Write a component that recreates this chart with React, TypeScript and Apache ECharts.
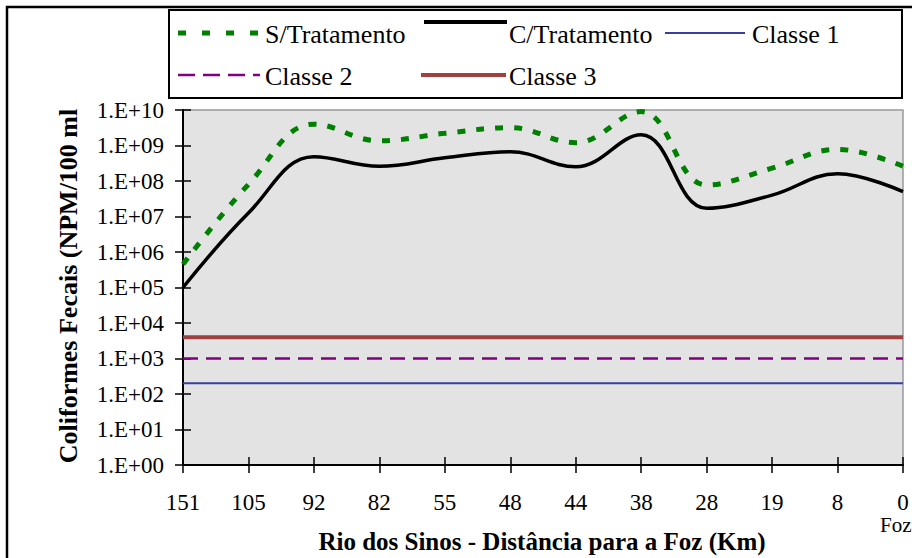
import React, { useEffect, useRef } from "react";
import * as echarts from "echarts";

const categories = ["151", "105", "92", "82", "55", "48", "44", "38", "28", "19", "8", "0"];
const sTratamento = [4.5e5, 8e7, 4e9, 1.35e9, 2.2e9, 3.2e9, 1.2e9, 9e9, 7.7e7, 2.3e8, 7.8e8, 2.6e8];
const cTratamento = [1e5, 1.25e7, 4.8e8, 2.6e8, 4.5e8, 6.7e8, 2.5e8, 2e9, 1.7e7, 4e7, 1.6e8, 5e7];
const classe1 = 200;
const classe2 = 1000;
const classe3 = 4000;
const yMin = 1;
const yMax = 1e10;

const TNR = "Liberation Serif";

const C_GREEN = "#008000";
const C_BLACK = "#000000";
const C_BLUE = "#3a3f9f";
const C_PURPLE = "#800080";
const C_RED = "#a0403f";

function fmtLog(v: number) {
  const e = Math.round(Math.log10(v));
  return "1.E+" + (e < 10 ? "0" : "") + e;
}

function txt(text: string, x: number, y: number, size: number, extra: any = {}) {
  return {
    type: "text",
    x,
    y,
    silent: true,
    ...extra.el,
    style: {
      text,
      fontFamily: TNR,
      fontSize: size,
      fill: "#000",
      verticalAlign: "middle",
      ...extra.style,
    },
  };
}

export default function App() {
  const ref = useRef<HTMLDivElement>(null);
  useEffect(() => {
    if (!ref.current) return;
    const chart = echarts.init(ref.current, undefined, { renderer: "svg" });
    const tickStyle = { color: "#000", width: 1.5 };
    const option: any = {
      animation: false,
      grid: {
        left: 183,
        right: 9,
        top: 110,
        bottom: 93,
        show: true,
        backgroundColor: "#E3E3E3",
        borderColor: "#9a9a9a",
        borderWidth: 1.5,
      },
      xAxis: [
        {
          type: "category",
          data: categories,
          boundaryGap: false,
          axisLine: { lineStyle: { color: "#000", width: 2 } },
          axisTick: { show: true, length: 8, interval: 0, lineStyle: tickStyle },
          axisLabel: { interval: 0, margin: 26, fontFamily: TNR, fontSize: 23, color: "#000" },
          splitLine: { show: false },
        },
        {
          type: "category",
          data: categories,
          boundaryGap: false,
          position: "bottom",
          axisLine: { show: false },
          axisTick: { show: true, inside: true, length: 8, interval: 0, lineStyle: tickStyle },
          axisLabel: { show: false },
          splitLine: { show: false },
        },
      ],
      yAxis: [
        {
          type: "log",
          logBase: 10,
          min: yMin,
          max: yMax,
          interval: 1,
          splitNumber: 10,
          axisLine: { show: true, lineStyle: { color: "#000", width: 2 } },
          axisTick: { show: true, length: 8, lineStyle: tickStyle },
          axisLabel: { margin: 19, fontFamily: TNR, fontSize: 23, color: "#000", formatter: fmtLog },
          splitLine: { show: false },
        },
        {
          type: "log",
          logBase: 10,
          min: yMin,
          max: yMax,
          interval: 1,
          splitNumber: 10,
          position: "left",
          axisLine: { show: false },
          axisTick: { show: true, inside: true, length: 8, lineStyle: tickStyle },
          axisLabel: { show: false },
          splitLine: { show: false },
        },
      ],
      series: [
        {
          name: "Classe 1",
          type: "line",
          data: categories.map(() => classe1),
          symbol: "none",
          lineStyle: { color: C_BLUE, width: 2 },
        },
        {
          name: "Classe 2",
          type: "line",
          data: categories.map(() => classe2),
          symbol: "none",
          lineStyle: { color: C_PURPLE, width: 2.5, type: [15, 8] },
        },
        {
          name: "Classe 3",
          type: "line",
          data: categories.map(() => classe3),
          symbol: "none",
          lineStyle: { color: C_RED, width: 4 },
        },
        {
          name: "C/Tratamento",
          type: "line",
          data: cTratamento,
          symbol: "none",
          smooth: 0.4,
          lineStyle: { color: C_BLACK, width: 3.5 },
        },
        {
          name: "S/Tratamento",
          type: "line",
          data: sTratamento,
          symbol: "none",
          smooth: 0.4,
          lineStyle: { color: C_GREEN, width: 5, type: [8, 11], cap: "butt" },
        },
      ],
      graphic: [
        {
          type: "rect",
          shape: { x: 7, y: 7, width: 1000, height: 1000 },
          style: { fill: "none", stroke: "#000", lineWidth: 2.5 },
          silent: true,
        },
        {
          type: "rect",
          shape: { x: 169, y: 10, width: 733, height: 88 },
          style: { fill: "#fff", stroke: "#000", lineWidth: 2 },
          silent: true,
        },
        {
          type: "line",
          shape: { x1: 178, y1: 33, x2: 258, y2: 33 },
          style: { stroke: C_GREEN, lineWidth: 5, lineDash: [8, 16] },
        },
        txt("S/Tratamento", 265, 34, 26),
        {
          type: "line",
          shape: { x1: 424, y1: 22, x2: 507, y2: 22 },
          style: { stroke: C_BLACK, lineWidth: 4 },
        },
        txt("C/Tratamento", 509, 34, 26),
        {
          type: "line",
          shape: { x1: 665, y1: 33, x2: 745, y2: 33 },
          style: { stroke: C_BLUE, lineWidth: 2 },
        },
        txt("Classe 1", 752, 34, 26),
        {
          type: "line",
          shape: { x1: 178, y1: 75, x2: 260, y2: 75 },
          style: { stroke: C_PURPLE, lineWidth: 2.5, lineDash: [17, 8] },
        },
        txt("Classe 2", 265, 76, 26),
        {
          type: "line",
          shape: { x1: 421, y1: 75, x2: 506, y2: 75 },
          style: { stroke: C_RED, lineWidth: 4 },
        },
        txt("Classe 3", 509, 76, 26),
        txt("Coliformes Fecais (NPM/100 ml", 68, 286, 26, {
          el: { rotation: Math.PI / 2 },
          style: { fontWeight: "bold", align: "center" },
        }),
        txt("Rio dos Sinos - Distância para a Foz (Km)", 542, 541, 25, {
          style: { fontWeight: "bold", align: "center" },
        }),
        txt("Foz", 880, 525, 21),
      ],
    };
    chart.setOption(option);
    return () => chart.dispose();
  }, []);
  return (
    <div
      ref={ref}
      style={{ position: "fixed", left: 0, top: 0, width: 912, height: 558, background: "#fff" }}
    />
  );
}
